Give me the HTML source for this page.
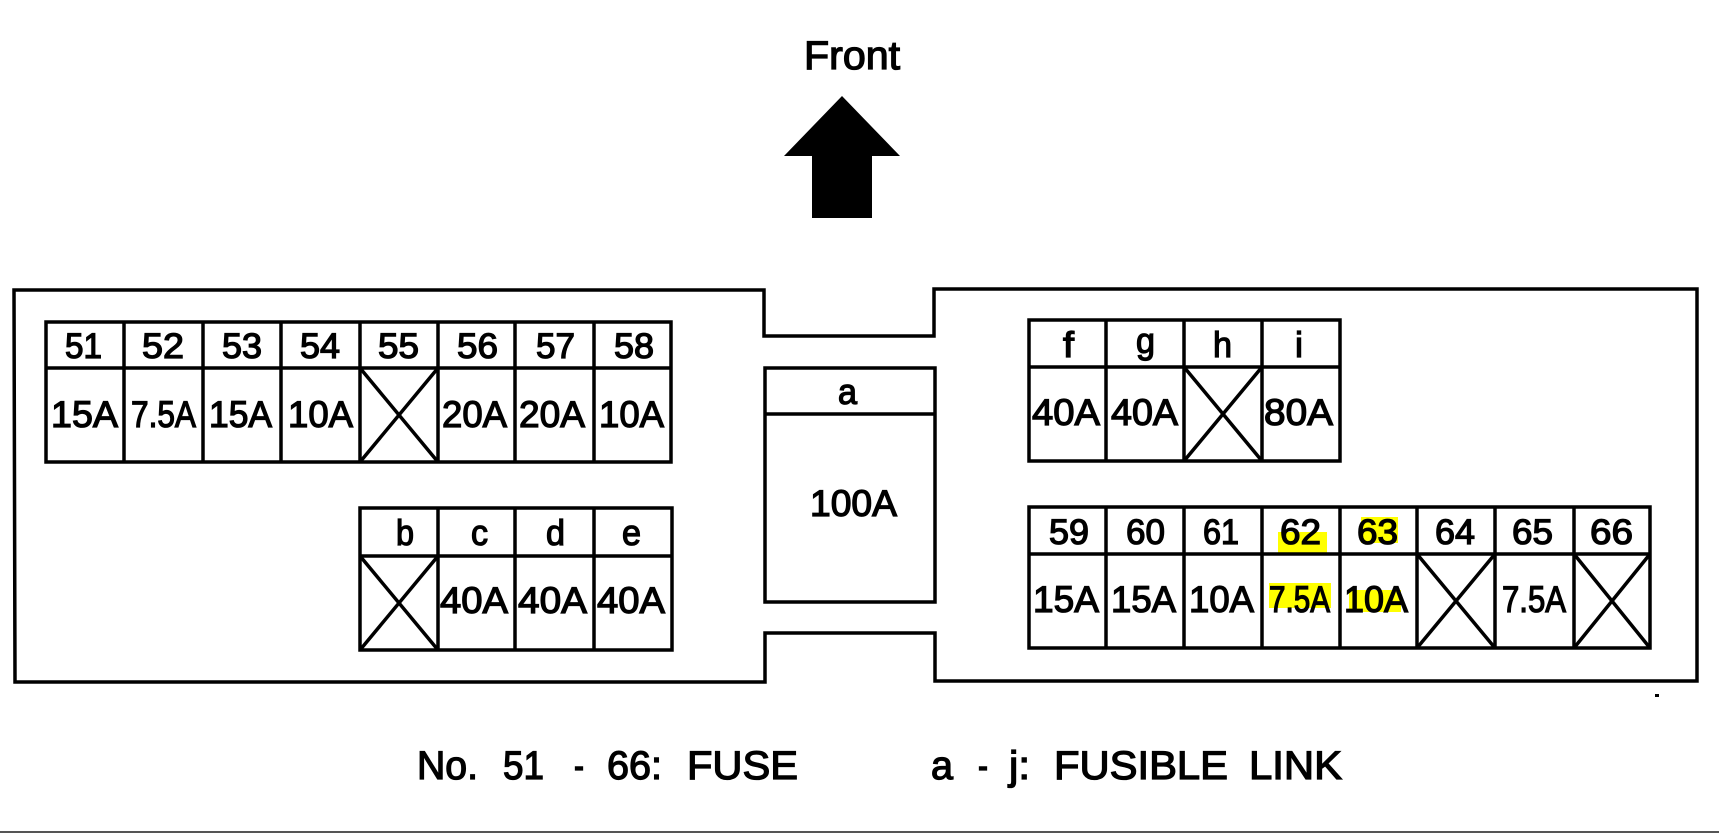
<!DOCTYPE html>
<html>
<head>
<meta charset="utf-8">
<style>
html,body{margin:0;padding:0;background:#fff;width:1719px;height:833px;overflow:hidden}
svg{display:block}
text{font-family:"Liberation Sans",sans-serif;fill:#000;stroke:#000;stroke-width:1.3px}
.n{font-size:35px}
.a{font-size:37px}
.l{font-size:36px}
.b{font-size:40px}
</style>
</head>
<body>
<svg width="1719" height="833" viewBox="0 0 1719 833" xmlns="http://www.w3.org/2000/svg">
<rect width="1719" height="833" fill="#fff"/>
<!-- highlights -->
<g fill="#ffff00">
<rect x="1278" y="532" width="49" height="21"/>
<rect x="1361" y="517" width="37" height="26"/>
<rect x="1269" y="583" width="62" height="25"/>
<rect x="1349" y="590" width="52" height="22"/>
</g>
<!-- arrow -->
<polygon points="842,96 900,156 872,156 872,218 812,218 812,156 784,156" fill="#000"/>
<g fill="none" stroke="#000" stroke-width="3.5" stroke-linejoin="miter">
<!-- outer housing -->
<path d="M14,290 H764 V336 H934 V289 H1697 V681 H935 V633 H765 V682 H15 Z"/>
<!-- center a -->
<path d="M935,368 H765 V602 H935 Z M765,414 H935"/>
<!-- block 51-58 -->
<path d="M46,322 H671 V462 H46 Z M46,368 H671 M124,322 V462 M203,322 V462 M281,322 V462 M360,322 V462 M438,322 V462 M515,322 V462 M594,322 V462"/>
<path d="M360,368 L438,462 M438,368 L360,462"/>
<!-- block b-e -->
<path d="M360,508 H672 V650 H360 Z M360,556 H672 M438,508 V650 M515,508 V650 M594,508 V650"/>
<path d="M360,556 L438,650 M438,556 L360,650"/>
<!-- block f-i -->
<path d="M1029,320 H1340 V461 H1029 Z M1029,367 H1340 M1106,320 V461 M1184,320 V461 M1262,320 V461"/>
<path d="M1184,367 L1262,461 M1262,367 L1184,461"/>
<!-- block 59-66 -->
<path d="M1029,507 H1650 V648 H1029 Z M1029,554 H1650 M1106,507 V648 M1184,507 V648 M1262,507 V648 M1340,507 V648 M1417,507 V648 M1495,507 V648 M1574,507 V648"/>
<path d="M1417,554 L1495,648 M1495,554 L1417,648 M1574,554 L1650,648 M1650,554 L1574,648"/>
</g>
<!-- speck and bottom rule -->
<rect x="1655" y="694" width="4" height="3" fill="#000"/>
<rect x="0" y="831" width="1719" height="2" fill="#555"/>

<!-- Front -->
<text class="b" x="804" y="69" textLength="96" lengthAdjust="spacingAndGlyphs">Front</text>

<!-- row 51-58 numbers -->
<g class="n">
<text x="65" y="358" textLength="37" lengthAdjust="spacingAndGlyphs">51</text>
<text x="142" y="358" textLength="42" lengthAdjust="spacingAndGlyphs">52</text>
<text x="222" y="358" textLength="40" lengthAdjust="spacingAndGlyphs">53</text>
<text x="300" y="358" textLength="40" lengthAdjust="spacingAndGlyphs">54</text>
<text x="378" y="358" textLength="41" lengthAdjust="spacingAndGlyphs">55</text>
<text x="457" y="358" textLength="41" lengthAdjust="spacingAndGlyphs">56</text>
<text x="536" y="358" textLength="39" lengthAdjust="spacingAndGlyphs">57</text>
<text x="614" y="358" textLength="40" lengthAdjust="spacingAndGlyphs">58</text>
</g>
<g class="a" transform="translate(-2,0)">
<text x="53" y="427" textLength="67" lengthAdjust="spacingAndGlyphs">15A</text>
<text x="133" y="427" textLength="65" lengthAdjust="spacingAndGlyphs">7.5A</text>
<text x="211" y="427" textLength="63" lengthAdjust="spacingAndGlyphs">15A</text>
<text x="290" y="427" textLength="65" lengthAdjust="spacingAndGlyphs">10A</text>
<text x="444" y="427" textLength="65" lengthAdjust="spacingAndGlyphs">20A</text>
<text x="521" y="427" textLength="66" lengthAdjust="spacingAndGlyphs">20A</text>
<text x="601" y="427" textLength="65" lengthAdjust="spacingAndGlyphs">10A</text>
</g>

<!-- block b-e labels -->
<g class="l">
<text x="396" y="545" textLength="18" lengthAdjust="spacingAndGlyphs">b</text>
<text x="471" y="545" textLength="17" lengthAdjust="spacingAndGlyphs">c</text>
<text x="546" y="545" textLength="19" lengthAdjust="spacingAndGlyphs">d</text>
<text x="622" y="545" textLength="19" lengthAdjust="spacingAndGlyphs">e</text>
</g>
<g class="a" transform="translate(-2,0)">
<text x="442" y="613" textLength="68" lengthAdjust="spacingAndGlyphs">40A</text>
<text x="520" y="613" textLength="69" lengthAdjust="spacingAndGlyphs">40A</text>
<text x="599" y="613" textLength="68" lengthAdjust="spacingAndGlyphs">40A</text>
</g>

<!-- a -->
<text class="l" x="838" y="404" textLength="19" lengthAdjust="spacingAndGlyphs">a</text>
<text class="a" x="810" y="516" textLength="87" lengthAdjust="spacingAndGlyphs">100A</text>

<!-- block f-i -->
<g class="l">
<text x="1063" y="357" textLength="11" lengthAdjust="spacingAndGlyphs">f</text>
<text x="1136" y="353" textLength="19" lengthAdjust="spacingAndGlyphs">g</text>
<text x="1213" y="357" textLength="19" lengthAdjust="spacingAndGlyphs">h</text>
<text x="1295" y="357" textLength="8" lengthAdjust="spacingAndGlyphs">i</text>
</g>
<g class="a" transform="translate(-2,0)">
<text x="1034" y="425" textLength="68" lengthAdjust="spacingAndGlyphs">40A</text>
<text x="1113" y="425" textLength="67" lengthAdjust="spacingAndGlyphs">40A</text>
<text x="1266" y="425" textLength="69" lengthAdjust="spacingAndGlyphs">80A</text>
</g>

<!-- row 59-66 -->
<g class="n">
<text x="1049" y="544" textLength="40" lengthAdjust="spacingAndGlyphs">59</text>
<text x="1126" y="544" textLength="39" lengthAdjust="spacingAndGlyphs">60</text>
<text x="1203" y="544" textLength="36" lengthAdjust="spacingAndGlyphs">61</text>
<text x="1280" y="544" textLength="41" lengthAdjust="spacingAndGlyphs">62</text>
<text x="1357" y="544" textLength="41" lengthAdjust="spacingAndGlyphs">63</text>
<text x="1435" y="544" textLength="40" lengthAdjust="spacingAndGlyphs">64</text>
<text x="1512" y="544" textLength="41" lengthAdjust="spacingAndGlyphs">65</text>
<text x="1590" y="544" textLength="43" lengthAdjust="spacingAndGlyphs">66</text>
</g>
<g class="a" transform="translate(-2,0)">
<text x="1035" y="612" textLength="66" lengthAdjust="spacingAndGlyphs">15A</text>
<text x="1113" y="612" textLength="65" lengthAdjust="spacingAndGlyphs">15A</text>
<text x="1191" y="612" textLength="65" lengthAdjust="spacingAndGlyphs">10A</text>
<text x="1271" y="612" textLength="61" lengthAdjust="spacingAndGlyphs">7.5A</text>
<text x="1346" y="612" textLength="64" lengthAdjust="spacingAndGlyphs">10A</text>
<text x="1504" y="612" textLength="64" lengthAdjust="spacingAndGlyphs">7.5A</text>
</g>

<!-- caption -->
<g class="b">
<text x="417" y="779" textLength="61" lengthAdjust="spacingAndGlyphs">No.</text>
<text x="503" y="779" textLength="41" lengthAdjust="spacingAndGlyphs">51</text>
<text x="574" y="779" textLength="10" lengthAdjust="spacingAndGlyphs">-</text>
<text x="607" y="779" textLength="55" lengthAdjust="spacingAndGlyphs">66:</text>
<text x="687" y="779" textLength="111" lengthAdjust="spacingAndGlyphs">FUSE</text>
<text x="931" y="779" textLength="22" lengthAdjust="spacingAndGlyphs">a</text>
<text x="978" y="779" textLength="10" lengthAdjust="spacingAndGlyphs">-</text>
<text x="1009" y="779" textLength="21" lengthAdjust="spacingAndGlyphs">j:</text>
<text x="1054" y="779" textLength="174" lengthAdjust="spacingAndGlyphs">FUSIBLE</text>
<text x="1249" y="779" textLength="93" lengthAdjust="spacingAndGlyphs">LINK</text>
</g>
</svg>
</body>
</html>
